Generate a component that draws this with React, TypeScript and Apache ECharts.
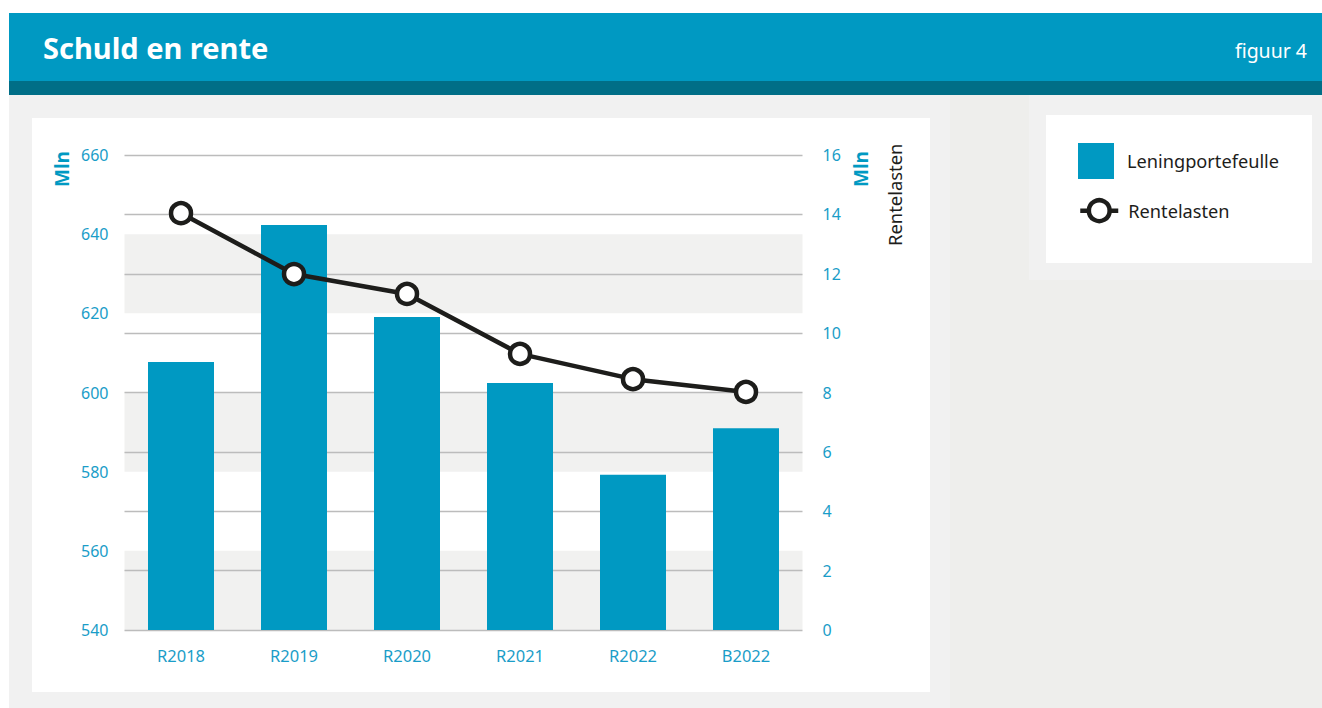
import React, { useEffect, useRef } from "react";
import * as echarts from "echarts";

const categories = ["R2018", "R2019", "R2020", "R2021", "R2022", "B2022"];
const leningportefeulle = [607.7, 642.3, 619.1, 602.4, 579.2, 591.0];
const rentelasten = [14.04, 11.99, 11.32, 9.3, 8.45, 8.02];

const BLUE = "#0099c2";
const LABEL = "#1a9dc8";
const FONT = "'Noto Sans', 'Open Sans', sans-serif";

export default function App() {
  const ref = useRef<HTMLDivElement>(null);
  useEffect(() => {
    document.body.style.margin = "0";
    const chart = echarts.init(ref.current!, undefined, { renderer: "svg" });
    chart.setOption({
      animation: false,
      textStyle: { fontFamily: FONT },
      title: [
        {
          text: "Schuld en rente",
          left: 43,
          top: 33,
          padding: 0,
          textStyle: { color: "#fff", fontSize: 29, fontWeight: "bold", fontFamily: FONT },
        },
        {
          text: "figuur 4",
          right: 15,
          top: 40,
          padding: 0,
          textStyle: { color: "#fff", fontSize: 19.5, fontWeight: "normal", fontFamily: FONT },
        },
      ],
      legend: [
        {
          left: 1078,
          top: 143,
          padding: 0,
          orient: "vertical",
          itemWidth: 36,
          itemHeight: 36,
          data: [{ name: "Leningportefeulle", icon: "rect" }],
          textStyle: { fontSize: 18.2, color: "#1d1d1b", fontFamily: FONT, padding: [0, 0, 0, 8] },
        },
        {
          left: 1078,
          top: 198,
          padding: 0,
          orient: "vertical",
          itemWidth: 38,
          itemHeight: 26,
          data: ["Rentelasten"],
          lineStyle: { width: 4.5, color: "#1d1d1b" },
          itemStyle: { color: "#ffffff", borderColor: "#1d1d1b", borderWidth: 4.5 },
          textStyle: { fontSize: 18.2, color: "#1d1d1b", fontFamily: FONT, padding: [0, 0, 0, 5] },
        },
      ],
      grid: { left: 124.5, right: 519.5, top: 155, bottom: 78, containLabel: false },
      xAxis: {
        type: "category",
        data: categories,
        axisLine: { show: false },
        axisTick: { show: false },
        axisLabel: { color: LABEL, fontSize: 16.5, margin: 17, fontFamily: FONT },
      },
      yAxis: [
        {
          type: "value",
          min: 540,
          max: 660,
          interval: 20,
          position: "left",
          axisLine: { show: false },
          axisTick: { show: false },
          axisLabel: { color: LABEL, fontSize: 16, margin: 16, fontFamily: FONT },
          splitLine: { show: false },
          splitArea: { show: true, areaStyle: { color: ["#f1f1f0", "rgba(255,255,255,0)"] } },
        },
        {
          type: "value",
          min: 0,
          max: 16,
          interval: 2,
          position: "right",
          axisLine: { show: false },
          axisTick: { show: false },
          axisLabel: { color: LABEL, fontSize: 16, margin: 20, fontFamily: FONT },
          splitLine: { show: true, lineStyle: { color: "#bcbcbc", width: 1.3 } },
        },
      ],
      graphic: [
        {
          type: "text",
          x: 52,
          y: 187,
          rotation: Math.PI / 2,
          style: { text: "Mln", fill: BLUE, font: `bold 19px ${FONT}` },
        },
        {
          type: "text",
          x: 851,
          y: 187,
          rotation: Math.PI / 2,
          style: { text: "Mln", fill: BLUE, font: `bold 19px ${FONT}` },
        },
        {
          type: "text",
          x: 885,
          y: 246,
          rotation: Math.PI / 2,
          style: { text: "Rentelasten", fill: "#1d1d1b", font: `18.4px ${FONT}` },
        },
      ],
      series: [
        {
          name: "Leningportefeulle",
          type: "bar",
          yAxisIndex: 0,
          data: leningportefeulle,
          barWidth: 66,
          itemStyle: { color: BLUE },
        },
        {
          name: "Rentelasten",
          type: "line",
          yAxisIndex: 1,
          data: rentelasten,
          symbol: "circle",
          symbolSize: 20,
          lineStyle: { color: "#1d1d1b", width: 4.5 },
          itemStyle: { color: "#ffffff", borderColor: "#1d1d1b", borderWidth: 4.5 },
          z: 5,
        },
      ],
    });
    return () => chart.dispose();
  }, []);

  const abs = (l: number, t: number, w: number, h: number, bg: string): React.CSSProperties => ({
    position: "absolute",
    left: l,
    top: t,
    width: w,
    height: h,
    background: bg,
  });

  return (
    <div style={{ position: "fixed", left: 0, top: 0, width: 1322, height: 708, background: "#fff", overflow: "hidden" }}>
      <div style={abs(9, 13, 1313, 68, "#0099c2")} />
      <div style={abs(9, 81, 1313, 14, "#006e87")} />
      <div style={abs(9, 95, 941, 613, "#f1f1f1")} />
      <div style={abs(950, 95, 372, 613, "#eeeeec")} />
      <div style={abs(1029, 95, 293, 185, "#f1f1f1")} />
      <div style={abs(1046, 115, 266, 148, "#ffffff")} />
      <div style={abs(32, 118, 898, 574, "#ffffff")} />
      <div ref={ref} style={{ position: "absolute", left: 0, top: 0, width: 1322, height: 708 }} />
    </div>
  );
}
